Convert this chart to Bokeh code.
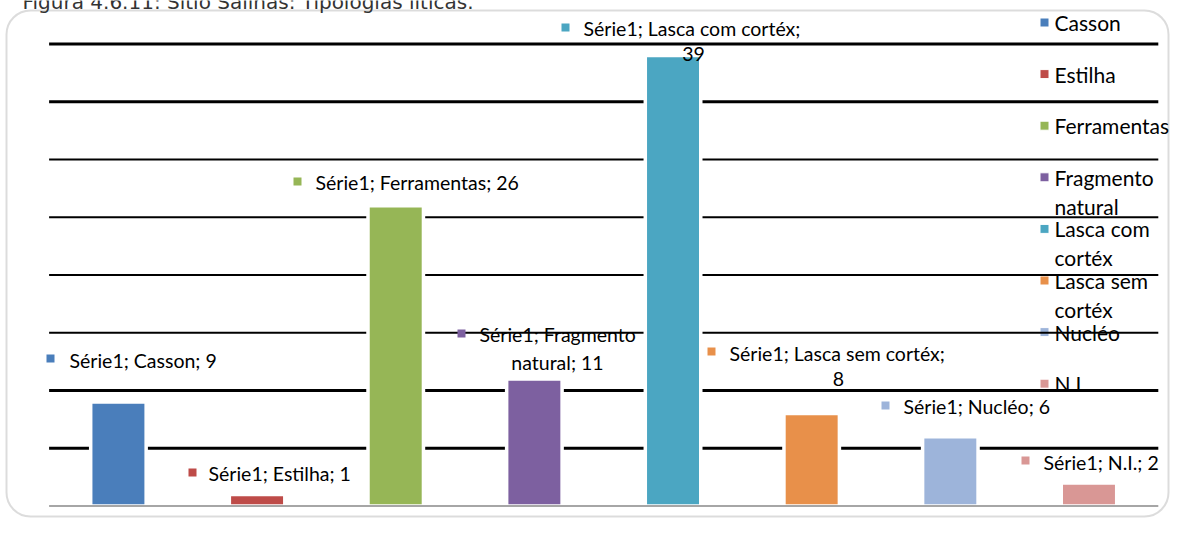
from bokeh.plotting import figure
from bokeh.models import Range1d, BoxAnnotation
from bokeh.core.properties import value
from bokeh.embed import file_html
from bokeh.resources import INLINE

# ---------------- data ----------------
title_text = "Figura 4.6.11: Sítio Salinas: Tipologias líticas."
series_name = "Série1"
categories = ["Casson", "Estilha", "Ferramentas", "Fragmento natural",
              "Lasca com cortéx", "Lasca sem cortéx", "Nucléo", "N.I."]
counts = [9, 1, 26, 11, 39, 8, 6, 2]
grid_values = [5, 10, 15, 20, 25, 30, 35, 40]

# ---------------- style / layout ----------------
colors = ["#4A7EBB", "#BE4B48", "#96B656", "#7D60A0",
          "#4BA6C2", "#E8904A", "#9DB4DA", "#D99795"]
grid_widths = [3, 3, 2, 2, 2, 2, 3, 3]
W, H = 1170, 518
PX0, STEP = 48.6, 138.65   # left edge of category band, width of a band (px)
BASE, UNIT = 505.5, 11.55  # baseline y and px per unit (px)


def X(sx):
    return (sx - PX0) / STEP


def Y(sy):
    return (BASE - sy) / UNIT


# label layout (px): square centre, text left, line-1 y, line-2 centre x, line-2 y, words in line 1
label_layout = [
    (50, 358, 69, 360, None, None, None),
    (192, 472, 208, 473, None, None, None),
    (297, 181, 315, 182, None, None, None),
    (461, 333, 479, 334, 557, 362, 2),
    (565, 27, 583, 28, 693, 53, 4),
    (711, 351, 729, 353, 838, 378, 4),
    (885, 405, 903, 406, None, None, None),
    (1025, 460, 1043, 462, None, None, None),
]
legend_x_sq, legend_x_txt = 1044, 1054
legend_y0, legend_dy, legend_line2 = 22, 51.6, 29
legend_break = [None, None, None, 1, 2, 2, None, None]

label_font = value("Lato")
label_size = "19.5px"
legend_size = "21px"

p = figure(width=W, height=H,
           x_range=Range1d(X(0), X(W)),
           y_range=Range1d(Y(H), Y(0)),
           x_axis_type=None, y_axis_type=None,
           output_backend="svg", toolbar_location=None,
           min_border=0, min_border_left=0, min_border_right=0,
           min_border_top=0, min_border_bottom=0)
p.grid.visible = False
p.outline_line_color = None
p.background_fill_color = "white"
p.border_fill_color = "white"

# rounded frame
p.add_layout(BoxAnnotation(left=X(6), right=X(1168), top=Y(10), bottom=Y(516),
                           fill_color=None, line_color="#8a8a8a", line_width=2,
                           border_radius=24, level="underlay"))

# title (partially cut at the top, as in the reference)
p.text(x=[X(22)], y=[Y(1)], text=[title_text], text_font=value("DejaVu Sans"),
       text_font_size="20px", text_baseline="alphabetic", text_color="#333333")

# legend (drawn manually)
for i, (cat, col) in enumerate(zip(categories, colors)):
    yy = legend_y0 + i * legend_dy
    p.scatter(x=[X(legend_x_sq)], y=[Y(yy)], marker="square", size=9,
              fill_color=col, line_color="white", line_width=1)
    words = cat.split(" ")
    b = legend_break[i]
    lines = [cat] if b is None else [" ".join(words[:b]), " ".join(words[b:])]
    for k, ln in enumerate(lines):
        p.text(x=[X(legend_x_txt)], y=[Y(yy + k * legend_line2)], text=[ln],
               text_font=label_font, text_font_size=legend_size,
               text_baseline="middle", text_align="left", text_color="black")

# gridlines
n = len(categories)
p.segment(x0=[0] * len(grid_values), x1=[n] * len(grid_values),
          y0=grid_values, y1=grid_values, line_color="black",
          line_width=grid_widths)

# bars
xs = [i + 0.5 for i in range(n)]
p.vbar(x=xs, top=counts, bottom=0, width=0.40, fill_color=colors,
       line_color="white", line_width=3.5)

# baseline
p.segment(x0=[0], x1=[n], y0=[0], y1=[0], line_color="#a6a6a6", line_width=2)

# data labels
for i, (cat, val, col) in enumerate(zip(categories, counts, colors)):
    sqx, sqy, tx, ty, l2x, l2y, brk = label_layout[i]
    words = f"{series_name}; {cat}; {val}".split(" ")
    p.scatter(x=[X(sqx)], y=[Y(sqy)], marker="square", size=8,
              fill_color=col, line_color=None)
    if brk is None:
        p.text(x=[X(tx)], y=[Y(ty)], text=[" ".join(words)], text_font=label_font,
               text_font_size=label_size, text_baseline="middle",
               text_align="left", text_color="black")
    else:
        p.text(x=[X(tx)], y=[Y(ty)], text=[" ".join(words[:brk])], text_font=label_font,
               text_font_size=label_size, text_baseline="middle",
               text_align="left", text_color="black")
        p.text(x=[X(l2x)], y=[Y(l2y)], text=[" ".join(words[brk:])], text_font=label_font,
               text_font_size=label_size, text_baseline="middle",
               text_align="center", text_color="black")

open("out.html", "w").write(file_html(p, INLINE))
